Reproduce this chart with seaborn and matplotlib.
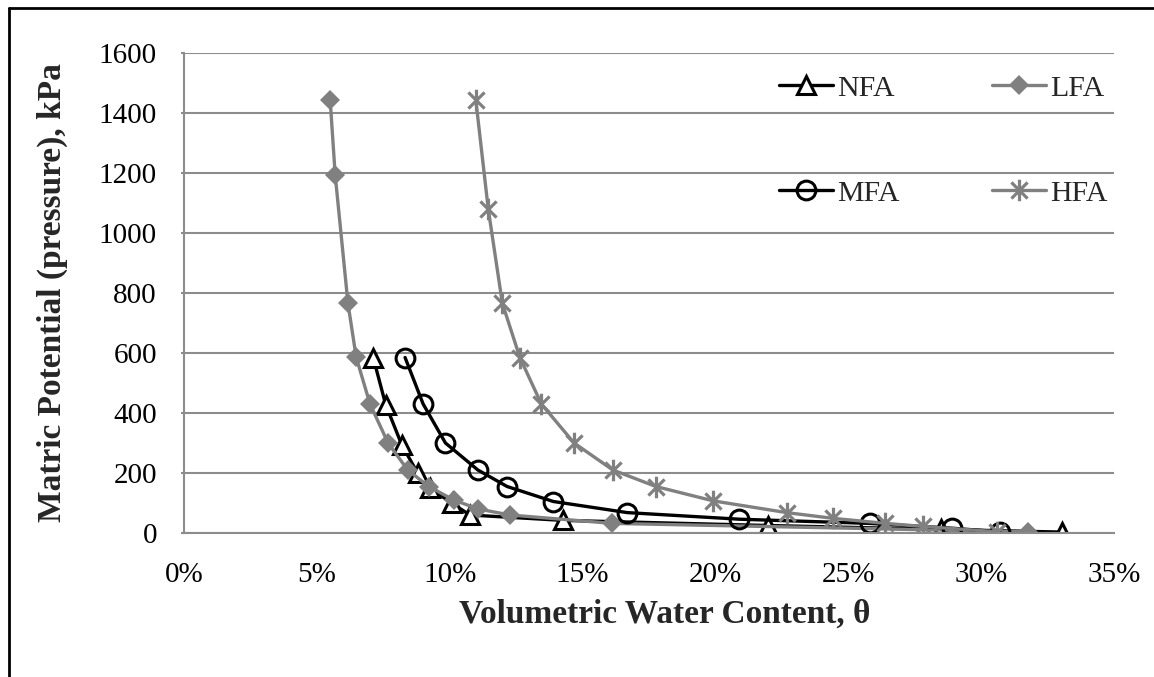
import numpy as np
import pandas as pd
import matplotlib
matplotlib.use("Agg")
import matplotlib.pyplot as plt
from matplotlib.path import Path
from matplotlib.lines import Line2D
from matplotlib.ticker import PercentFormatter, MultipleLocator
import seaborn as sns

# Water retention data: volumetric water content (%) vs matric potential (kPa)
nfa_theta = [7.12, 7.59, 8.19, 8.79, 9.26, 10.07, 10.76, 14.26, 21.97, 28.5, 33.05]
nfa_kpa = [585, 428, 295, 200, 150, 100, 60, 42, 25, 12, 3]

lfa_theta = [5.50, 5.69, 6.17, 6.48, 7.00, 7.68, 8.42, 9.21, 10.15, 11.08, 12.27, 16.12, 31.75]
lfa_kpa = [1445, 1193, 766, 586, 430, 300, 210, 155, 110, 80, 60, 32, 4]

mfa_theta = [8.32, 9.00, 9.84, 11.06, 12.16, 13.90, 16.68, 20.90, 25.80, 28.90, 30.70]
mfa_kpa = [585, 430, 300, 210, 155, 105, 68, 46, 32, 16, 4]

hfa_theta = [10.98, 11.45, 11.98, 12.64, 13.45, 14.68, 16.14, 17.76, 19.92, 22.68, 24.41, 26.40, 27.80, 30.60]
hfa_kpa = [1445, 1080, 766, 585, 430, 300, 210, 155, 107, 68, 49, 32, 22, 4]

y_ticks = [0, 200, 400, 600, 800, 1000, 1200, 1400, 1600]

sns.set_theme(style="white")
plt.rcParams["font.family"] = ["Liberation Serif", "DejaVu Serif"]

fig = plt.figure(figsize=(11.54, 6.77), dpi=100)
ax = fig.add_axes([184 / 1154, 144 / 677, 930 / 1154, 480 / 677])

# asterisk marker: vertical stroke plus a diagonal cross
star_path = Path(
    [(0, -1), (0, 1), (-0.75, -0.75), (0.75, 0.75), (-0.75, 0.75), (0.75, -0.75)],
    [Path.MOVETO, Path.LINETO, Path.MOVETO, Path.LINETO, Path.MOVETO, Path.LINETO],
)

BLACK = "#000000"
GRAY = "#808080"
lw = 2.4

series = [
    ("NFA", nfa_theta, nfa_kpa, BLACK, dict(marker="^", markersize=12.5, markerfacecolor="white",
                                            markeredgecolor=BLACK, markeredgewidth=2.2)),
    ("LFA", lfa_theta, lfa_kpa, GRAY, dict(marker="D", markersize=10.5, markerfacecolor=GRAY,
                                           markeredgecolor=GRAY, markeredgewidth=0)),
    ("MFA", mfa_theta, mfa_kpa, BLACK, dict(marker="o", markersize=13.5, markerfacecolor="none",
                                            markeredgecolor=BLACK, markeredgewidth=2.2)),
    ("HFA", hfa_theta, hfa_kpa, GRAY, dict(marker=star_path, markersize=15.5, markerfacecolor="none",
                                           markeredgecolor=GRAY, markeredgewidth=2.3)),
]

handles = {}
for name, xs, ys, col, mk in series:
    df = pd.DataFrame({"theta": xs, "kpa": ys})
    sns.lineplot(data=df, x="theta", y="kpa", ax=ax, color=col, linewidth=lw,
                 sort=False, estimator=None, label=name, **mk)
    handles[name] = ax.get_lines()[-1]

ax.set_xlim(0, 35)
ax.set_ylim(0, 1600)
ax.xaxis.set_major_locator(MultipleLocator(5))
ax.xaxis.set_major_formatter(PercentFormatter(xmax=100, decimals=0))
ax.set_yticks(y_ticks)

ax.grid(axis="y", color="#8c8c8c", linewidth=1.5)
ax.grid(axis="x", visible=False)
ax.set_axisbelow(True)
for side in ("top", "right"):
    ax.spines[side].set_visible(False)
for side in ("left", "bottom"):
    ax.spines[side].set_color("#8c8c8c")
    ax.spines[side].set_linewidth(1.5)

ax.tick_params(axis="y", which="major", left=True, length=2.5, width=1.5, color="#8c8c8c",
               labelsize=21, pad=17, labelcolor="black")
ax.tick_params(axis="x", which="major", bottom=False, labelsize=21, pad=15, labelcolor="black")

ax.set_xlabel("Volumetric Water Content, θ", fontsize=24, fontweight="bold")
ax.set_ylabel("Matric Potential (pressure), kPa", fontsize=24, fontweight="bold")
ax.xaxis.set_label_coords((665 - 184) / 930, (533 - 599) / 480)
ax.yaxis.set_label_coords((68 - 184) / 930, 0.5)

order = ["NFA", "MFA", "LFA", "HFA"]
ax.legend([handles[n] for n in order], order, ncol=2, frameon=False, fontsize=21.5,
          loc="upper right", bbox_to_anchor=(0.9935, 0.955), handlelength=1.8, handletextpad=0.15,
          columnspacing=3.1, labelspacing=2.62, borderaxespad=0, borderpad=0)

# outer frame along the top and left edges
fig.add_artist(Line2D([9 / 1154, 9 / 1154], [0, 1 - 8 / 677], transform=fig.transFigure,
                      color="black", linewidth=2))
fig.add_artist(Line2D([9 / 1154, 1], [1 - 8 / 677, 1 - 8 / 677], transform=fig.transFigure,
                      color="black", linewidth=2))

fig.savefig("out.png", dpi=100)
